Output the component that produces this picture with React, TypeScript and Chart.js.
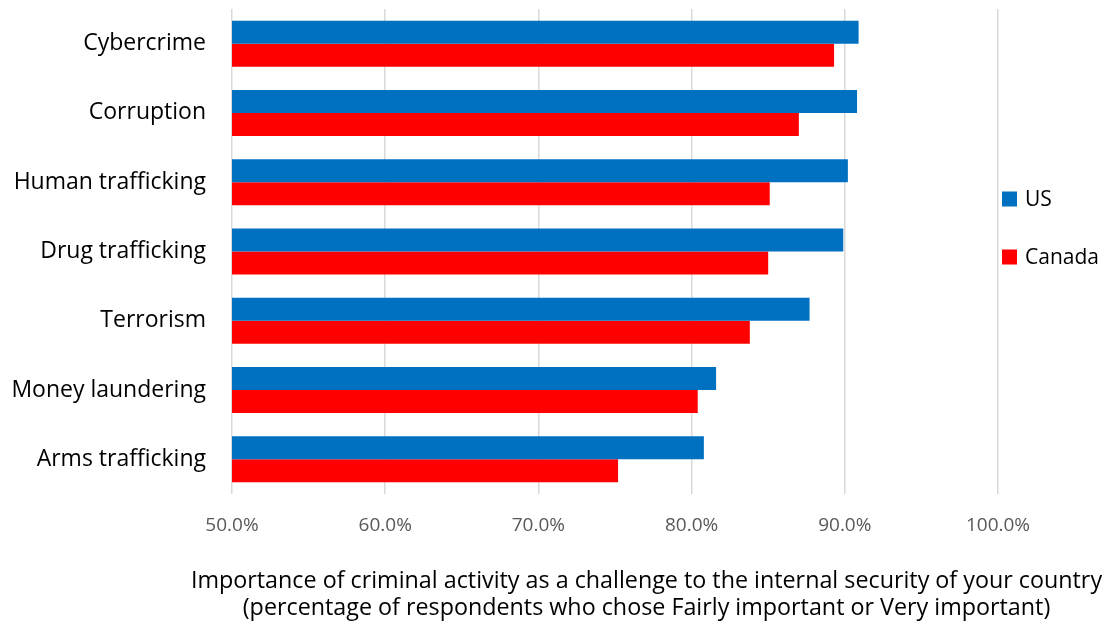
import React, { useEffect, useRef } from 'react';
import { Chart, registerables } from 'chart.js';

Chart.register(...registerables);

const categories = [
  'Cybercrime',
  'Corruption',
  'Human trafficking',
  'Drug trafficking',
  'Terrorism',
  'Money laundering',
  'Arms trafficking',
];
const usValues = [90.9, 90.8, 90.2, 89.9, 87.7, 81.6, 80.8];
const canadaValues = [89.3, 87.0, 85.1, 85.0, 83.8, 80.4, 75.2];
const seriesNames = ['US', 'Canada'];
const seriesColors = ['#0070C0', '#FF0000'];
const xMin = 50;
const xMax = 100;
const xStep = 10;
const axisTitleLines = [
  'Importance of criminal activity as a challenge to the internal security of your country',
  '(percentage of respondents who chose Fairly important or Very important)',
];

const FONT = '"Open Sans"';

const extrasPlugin = {
  id: 'extras',
  afterDraw(chart: any) {
    const ctx = chart.ctx;
    ctx.save();
    // legend
    const ds = chart.data.datasets;
    const legendY = [199, 257];
    ds.forEach((d: any, i: number) => {
      ctx.fillStyle = d.backgroundColor;
      ctx.fillRect(1002, legendY[i] - 7.5, 15, 15);
      ctx.fillStyle = '#000';
      ctx.font = `21px ${FONT}`;
      ctx.textAlign = 'left';
      ctx.textBaseline = 'middle';
      ctx.fillText(d.label, 1025, legendY[i] + 1);
    });
    // axis title
    ctx.fillStyle = '#000';
    ctx.font = `23.3px ${FONT}`;
    ctx.textAlign = 'center';
    ctx.textBaseline = 'alphabetic';
    ctx.fillText(axisTitleLines[0], 646.5, 587.5);
    ctx.fillText(axisTitleLines[1], 646.5, 615);
    ctx.restore();
  },
};

export default function App() {
  const ref = useRef<HTMLCanvasElement | null>(null);
  useEffect(() => {
    if (!ref.current) return;
    const chart = new Chart(ref.current, {
      type: 'bar',
      data: {
        labels: categories,
        datasets: [
          { label: seriesNames[0], data: usValues, backgroundColor: seriesColors[0] },
          { label: seriesNames[1], data: canadaValues, backgroundColor: seriesColors[1] },
        ],
      },
      options: {
        indexAxis: 'y',
        animation: false,
        responsive: false,
        maintainAspectRatio: false,
        layout: { padding: { top: 9, right: 109, bottom: 0, left: 0 } },
        datasets: {
          bar: { categoryPercentage: 0.664, barPercentage: 1 },
        },
        plugins: {
          legend: { display: false },
          tooltip: { enabled: false },
        },
        scales: {
          x: {
            min: xMin,
            max: xMax,
            afterFit: (s: any) => {
              s.height = 130;
              s.paddingLeft = 0;
              s.paddingRight = 0;
            },
            border: { display: false },
            grid: { color: '#d9d9d9', lineWidth: 1.5, drawTicks: false },
            ticks: {
              stepSize: xStep,
              padding: 20,
              color: '#595959',
              font: { family: 'Open Sans', size: 19 },
              callback: (v: any) => Number(v).toFixed(1) + '%',
            },
          },
          y: {
            afterFit: (s: any) => {
              s.width = 232;
              s.paddingTop = 0;
              s.paddingBottom = 0;
            },
            border: { display: false },
            grid: { display: false, drawTicks: false },
            ticks: {
              padding: 26,
              color: '#000',
              font: { family: 'Open Sans', size: 23 },
            },
          },
        },
      },
      plugins: [extrasPlugin],
    });
    return () => chart.destroy();
  }, []);
  return (
    <div style={{ position: 'absolute', left: 0, top: 0, width: 1107, height: 624, background: '#fff' }}>
      <canvas ref={ref} width={1107} height={624} style={{ width: 1107, height: 624 }} />
    </div>
  );
}
